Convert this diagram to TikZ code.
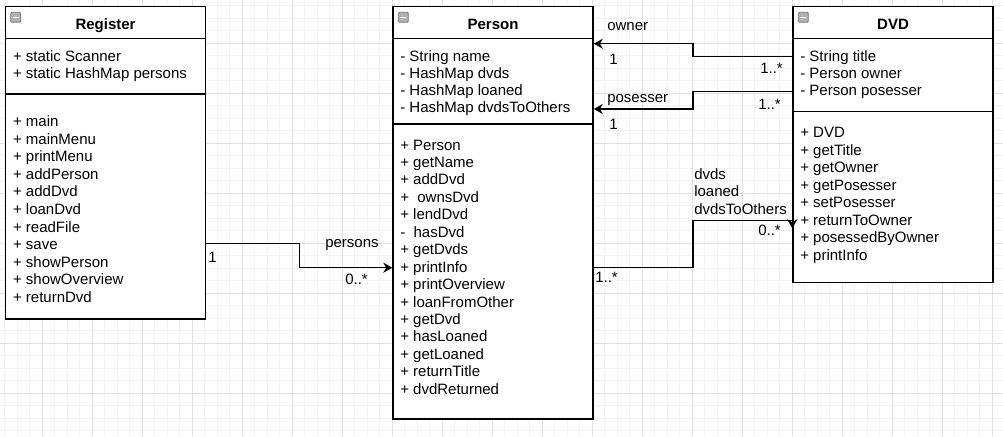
\documentclass[tikz,border=0pt]{standalone}
\usepackage{fontspec}
\setmainfont{Liberation Sans}
\usetikzlibrary{arrows.meta,calc}
\begin{document}
\begin{tikzpicture}[x=0.75pt,y=-0.75pt,
  minorgrid/.style={draw=black!5, line width=0.75pt},
  majorgrid/.style={draw=black!12, line width=0.75pt},
  classbox/.style={draw=black, line width=1.15pt, fill=white, inner sep=0pt, anchor=north west, minimum width=150pt},
  sepline/.style={draw=black, line width=1.15pt},
  txt/.style={font=\fontsize{11.25pt}{13pt}\selectfont, inner sep=0pt},
  title/.style={txt, font=\fontsize{11.25pt}{13pt}\selectfont\bfseries, anchor=base},
  member/.style={txt, anchor=base west},
  lbl/.style={txt, anchor=base west},
  assoc/.style={draw=black, line width=1.15pt, -{Stealth[length=6.75pt,width=7.5pt,inset=2.2pt]}},
  iconbox/.style={draw=black!55, fill=black!30, line width=0.6pt, rounded corners=0.8pt},
  iconbar/.style={draw=white, line width=1pt}
]
\useasboundingbox (0,0) rectangle (1003,436);
% grid
\begin{scope}
\clip (0,0) rectangle (1003,436);
\foreach \x in {4.8,17.3,...,1003} \draw[minorgrid] (\x,0) -- (\x,436);
\foreach \y in {5.8,18.3,...,436} \draw[minorgrid] (0,\y) -- (1003,\y);
\foreach \x in {42.3,92.3,...,1003} \draw[majorgrid] (\x,0) -- (\x,436);
\foreach \y in {43.3,93.3,...,436} \draw[majorgrid] (0,\y) -- (1003,\y);
\end{scope}

% class boxes
\node[classbox, minimum height=234.375pt] (reg) at (4.8,5.8) {};
\node[classbox, minimum height=309.375pt] (per) at (392.3,5.8) {};
\node[classbox, minimum height=207pt] (dvd) at (792.3,5.8) {};

% separators
\draw[sepline] ($(reg.north west)+(0,32.5)$) -- ($(reg.north east)+(0,32.5)$);
\draw[sepline] ($(reg.north west)+(0,88.4)$) -- ($(reg.north east)+(0,88.4)$);
\draw[sepline] ($(per.north west)+(0,32.5)$) -- ($(per.north east)+(0,32.5)$);
\draw[sepline] ($(per.north west)+(0,118.2)$) -- ($(per.north east)+(0,118.2)$);
\draw[sepline] ($(dvd.north west)+(0,32.5)$) -- ($(dvd.north east)+(0,32.5)$);
\draw[sepline] ($(dvd.north west)+(0,105.9)$) -- ($(dvd.north east)+(0,105.9)$);

% collapse icons
\foreach \b in {reg,per,dvd} {
  \draw[iconbox] ($(\b.north west)+(6,6.5)$) rectangle ++(10,10);
  \draw[iconbar] ($(\b.north west)+(8,11.5)$) -- ++(6,0);
}

% titles
\node[title] (regt) at ($(reg.north)+(0,23.5)$) {Register};
\node[title] (pert) at ($(per.north)+(0,23.5)$) {Person};
\node[title] (dvdt) at ($(dvd.north)+(0,23.5)$) {DVD};

% Register members
\foreach \t [count=\i] in {+ static Scanner, + static HashMap persons}
  \node[member] (ra\i) at (12.8,{61+17.5*(\i-1)}) {\t};
\foreach \t [count=\i] in {+ main, + mainMenu, + printMenu, + addPerson, + addDvd, + loanDvd, + readFile, + save, + showPerson, + showOverview, + returnDvd}
  \node[member] (rm\i) at (12.8,{126.7+17.56*(\i-1)}) {\t};

% Person members
\foreach \t [count=\i] in {- String name, - HashMap dvds, - HashMap loaned, - HashMap dvdsToOthers}
  \node[member] (pa\i) at (400,{61+17.15*(\i-1)}) {\t};
\foreach \t [count=\i] in {+ Person, + getName, + addDvd, +\ \ ownsDvd, + lendDvd, -\ \ hasDvd, + getDvds, + printInfo, + printOverview, + loanFromOther, + getDvd, + hasLoaned, + getLoaned, + returnTitle, + dvdReturned}
  \node[member] (pm\i) at (400,{150+17.45*(\i-1)}) {\t};

% DVD members
\foreach \t [count=\i] in {- String title, - Person owner, - Person posesser}
  \node[member] (da\i) at (800,{61+17*(\i-1)}) {\t};
\foreach \t [count=\i] in {+ DVD, + getTitle, + getOwner, + getPosesser, + setPosesser, + returnToOwner, + posessedByOwner, + printInfo}
  \node[member] (dm\i) at (800,{137.5+17.57*(\i-1)}) {\t};

% connector endpoints
\coordinate (r1) at ($(reg.north east)+(0,237.5)$);
\coordinate (p1) at ($(per.north west)+(0,261.9)$);
\coordinate (d1) at ($(dvd.north west)+(0,50.9)$);
\coordinate (p2) at ($(per.north east)+(0,37.9)$);
\coordinate (d2) at ($(dvd.north west)+(0,85.9)$);
\coordinate (p3) at ($(per.north east)+(0,103.2)$);
\coordinate (p4) at ($(per.north east)+(0,261.9)$);
\coordinate (d3) at ($(dvd.north west)+(0,214.5)$);
\coordinate (d3e) at ($(d3)+(0,8)$);

% connectors
\draw[assoc] (r1) -| ($(r1)!0.5!(p1)$) |- (p1);
\draw[assoc] (d1) -| ($(d1)!0.5!(p2)$) |- (p2);
\draw[assoc] (d2) -| ($(d2)!0.5!(p3)$) |- (p3);
\draw[assoc] (p4) -| ($(p4)!0.5!(d3)$) |- (d3) -- (d3e);

% connector labels
\node[lbl] (l1) at (325,247.7) {persons};
\node[lbl] (l2) at (208,262) {1};
\node[lbl] (l3) at (345,284.5) {0..*};
\node[lbl] (l4) at (607,30.3) {owner};
\node[lbl] (l5) at (609,64.3) {1};
\node[lbl] (l6) at (760,73) {1..*};
\node[lbl] (l7) at (607,102.7) {posesser};
\node[lbl] (l8) at (758,109) {1..*};
\node[lbl] (l9) at (609,129.5) {1};
\node[lbl] (l10) at (694,179.3) {dvds};
\node[lbl] (l11) at (694,196.7) {loaned};
\node[lbl] (l12) at (694,214.3) {dvdsToOthers};
\node[lbl] (l13) at (758,235) {0..*};
\node[lbl] (l14) at (595,282.3) {1..*};
\end{tikzpicture}
\end{document}
